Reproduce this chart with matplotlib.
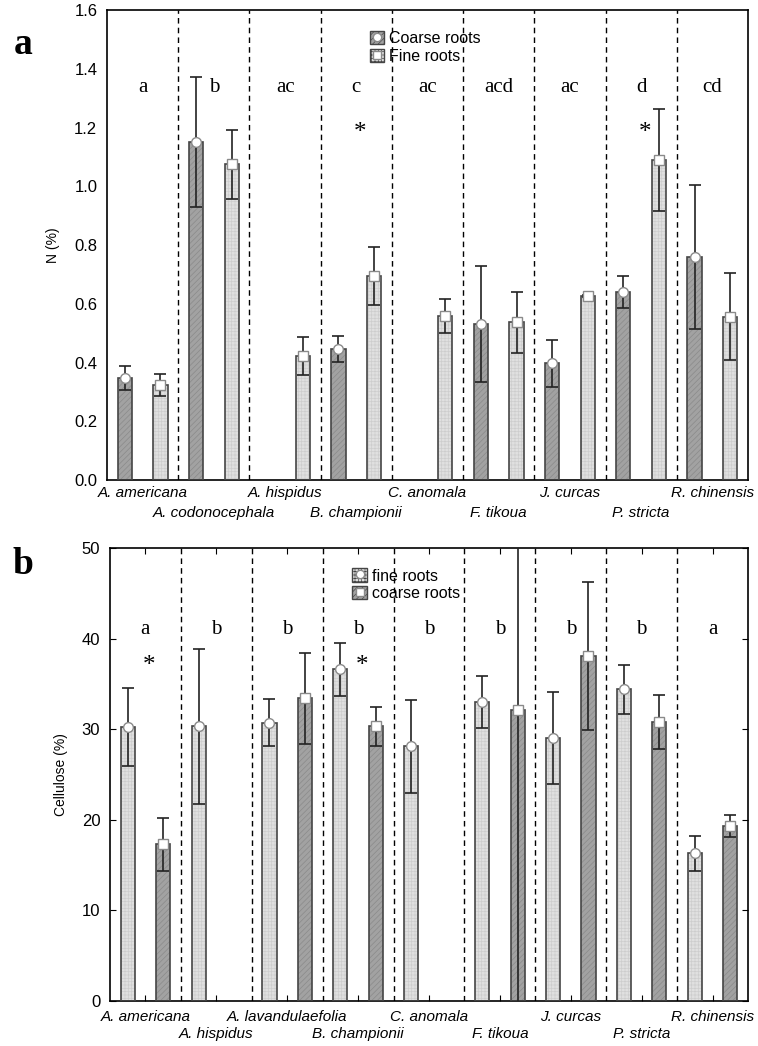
"""Root N and cellulose content by species, coarse vs fine roots."""

import matplotlib

matplotlib.use("Agg")
import matplotlib.pyplot as plt
import numpy as np
from matplotlib.legend_handler import HandlerTuple
from matplotlib.lines import Line2D
from matplotlib.patches import Patch

nan = np.nan

# panel a: N (%)
species_a = ["A. americana", "A. codonocephala", "A. hispidus", "B. championii",
             "C. anomala", "F. tikoua", "J. curcas", "P. stricta", "R. chinensis"]
n_coarse = [0.347, 1.150, nan, 0.445, nan, 0.531, 0.397, 0.641, 0.760]
n_coarse_err = [0.040, 0.222, nan, 0.044, nan, 0.199, 0.081, 0.054, 0.246]
n_fine = [0.323, 1.075, 0.423, 0.694, 0.559, 0.537, 0.627, 1.089, 0.556]
n_fine_err = [0.038, 0.117, 0.065, 0.098, 0.058, 0.104, 0.004, 0.173, 0.148]
letters_a = ["a", "b", "ac", "c", "ac", "acd", "ac", "d", "cd"]
stars_a = [3, 7]

# panel b: cellulose (%)
species_b = ["A. americana", "A. hispidus", "A. lavandulaefolia", "B. championii",
             "C. anomala", "F. tikoua", "J. curcas", "P. stricta", "R. chinensis"]
cell_fine = [30.2, 30.3, 30.7, 36.6, 28.1, 33.0, 29.0, 34.4, 16.3]
cell_fine_err = [4.3, 8.6, 2.6, 2.9, 5.1, 2.9, 5.1, 2.7, 1.9]
cell_coarse = [17.3, nan, 33.4, 30.3, nan, 32.1, 38.1, 30.8, 19.3]
cell_coarse_err = [2.9, nan, 5.0, 2.1, nan, 33.0, 8.2, 3.0, 1.2]
letters_b = ["a", "b", "b", "b", "b", "b", "b", "b", "a"]
stars_b = [0, 3]

COARSE = dict(face="#a2a2a2", hatch="//////", hcol="#8a8a8a")
FINE = dict(face="#e0e0e0", hatch="+++++", hcol="#cdcdcd")
EDGE = "#454545"

plt.rcParams["font.family"] = ["Liberation Sans", "DejaVu Sans"]
plt.rcParams["hatch.linewidth"] = 0.5


def draw_bars(ax, xpos, values, errors, style, marker):
    xpos = np.asarray(xpos, dtype=float)
    values = np.asarray(values, dtype=float)
    errors = np.asarray(errors, dtype=float)
    ok = ~np.isnan(values)
    x, v, e = xpos[ok], values[ok], errors[ok]
    ax.bar(x, v, width=0.2, color=style["face"], hatch=style["hatch"],
           edgecolor=style["hcol"], linewidth=0, zorder=2)
    ax.bar(x, v, width=0.2, fill=False, edgecolor=EDGE, linewidth=1.2, zorder=3)
    ax.errorbar(x, v, yerr=e, fmt="none", ecolor="#222222", elinewidth=1.2,
                capsize=4, capthick=1.2, zorder=4)
    ax.plot(x, v, ls="none", marker=marker, ms=7, mfc="white", mec="#8a8a8a",
            mew=1, zorder=5)


def legend_handle(style, marker):
    patch = Patch(facecolor=style["face"], hatch=style["hatch"], edgecolor=EDGE, linewidth=1)
    dot = Line2D([], [], ls="none", marker=marker, ms=6, mfc="white", mec="#8a8a8a")
    return (patch, dot)


def decorate(ax, species, letters, stars, letter_y, star_y, rows_y):
    groups = np.arange(len(species))
    for b in groups[:-1] + 0.5:
        ax.axvline(b, color="black", lw=1, dashes=(4, 3), zorder=6)
    for g, lab in zip(groups, letters):
        ax.text(g, letter_y, lab, ha="center", va="center", fontsize=15,
                family="Liberation Serif")
    for g in stars:
        ax.text(g + 0.05, star_y, "*", ha="center", va="center", fontsize=18,
                family="Liberation Serif")
    tr = ax.get_xaxis_transform()
    for g, name in zip(groups, species):
        ax.text(g, rows_y[g % 2], name, transform=tr, ha="center", va="center",
                fontsize=11, style="italic", clip_on=False)
    ax.set_xlim(-0.5, len(species) - 0.5)


fig = plt.figure(figsize=(7.58, 10.46), dpi=100)
ax_a = fig.add_axes([0.1412, 0.5411, 0.8456, 0.4493])
ax_b = fig.add_axes([0.1451, 0.0430, 0.8417, 0.4331])

grp = np.arange(len(species_a))
draw_bars(ax_a, grp - 0.25, n_coarse, n_coarse_err, COARSE, "o")
draw_bars(ax_a, grp + 0.25, n_fine, n_fine_err, FINE, "s")
decorate(ax_a, species_a, letters_a, stars_a, 1.335, 1.18, (-0.028, -0.07))
ax_a.set_ylim(0, 1.6)
ax_a.set_yticks(np.arange(0, 1.61, 0.2))
ax_a.set_yticklabels([f"{t:.1f}" for t in np.arange(0, 1.61, 0.2)])
ax_a.set_xticks([])
ax_a.tick_params(axis="y", length=0, labelsize=12, pad=7)
ax_a.set_ylabel("N (%)", fontsize=10)
ax_a.yaxis.set_label_coords(-0.073, 0.5)
ax_a.legend([legend_handle(COARSE, "o"), legend_handle(FINE, "s")],
            ["Coarse roots", "Fine roots"],
            handler_map={tuple: HandlerTuple(ndivide=1)},
            loc="upper left", bbox_to_anchor=(0.41, 0.955), frameon=False,
            fontsize=11.5, handlelength=0.9, handleheight=0.9, handletextpad=0.3,
            labelspacing=0.15, borderaxespad=0, borderpad=0)

draw_bars(ax_b, grp - 0.25, cell_fine, cell_fine_err, FINE, "o")
draw_bars(ax_b, grp + 0.25, cell_coarse, cell_coarse_err, COARSE, "s")
decorate(ax_b, species_b, letters_b, stars_b, 41, 37.0, (-0.035, -0.073))
ax_b.set_ylim(0, 50)
ax_b.set_yticks([0, 10, 20, 30, 40, 50])
ax_b.set_xticks(grp)
ax_b.set_xticklabels([])
ax_b.tick_params(direction="in", length=4, top=True, right=True, labelsize=12, pad=7)
ax_b.set_ylabel("Cellulose (%)", fontsize=10)
ax_b.yaxis.set_label_coords(-0.066, 0.5)
ax_b.legend([legend_handle(FINE, "o"), legend_handle(COARSE, "s")],
            ["fine roots", "coarse roots"],
            handler_map={tuple: HandlerTuple(ndivide=1)},
            loc="upper left", bbox_to_anchor=(0.38, 0.955), frameon=False,
            fontsize=11.5, handlelength=0.9, handleheight=0.9, handletextpad=0.3,
            labelspacing=0.15, borderaxespad=0, borderpad=0)

for ax in (ax_a, ax_b):
    for sp in ax.spines.values():
        sp.set_linewidth(1.2)

fig.text(0.03, 0.957, "a", fontsize=27, fontweight="bold", family="Liberation Serif",
         ha="center", va="center")
fig.text(0.03, 0.46, "b", fontsize=27, fontweight="bold", family="Liberation Serif",
         ha="center", va="center")

fig.savefig("out.png", dpi=100)
